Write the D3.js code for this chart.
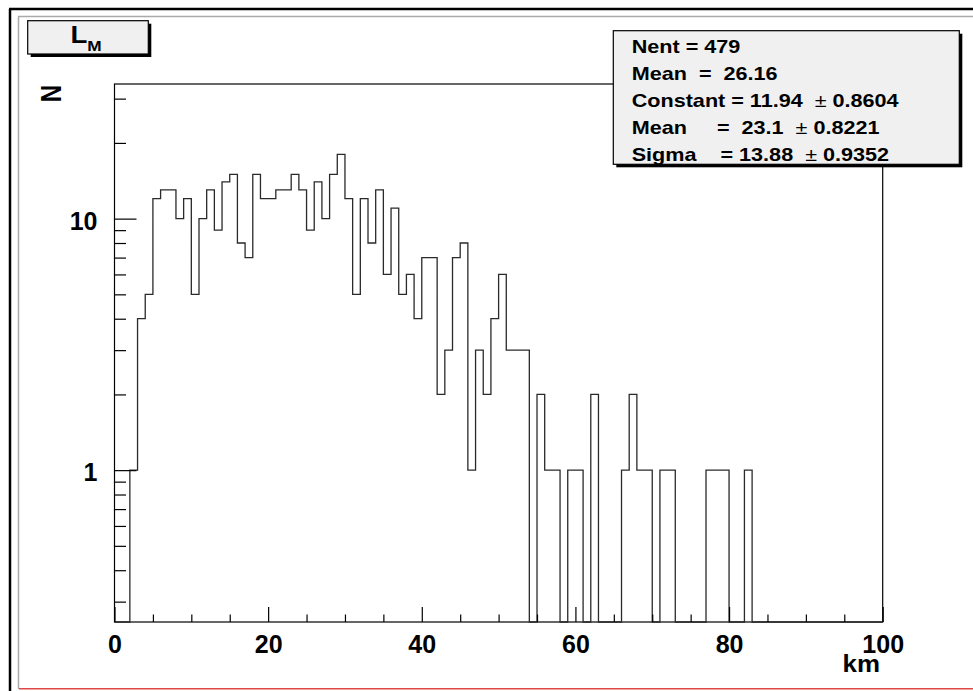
<!DOCTYPE html>
<html>
<head>
<meta charset="utf-8">
<script src="https://cdn.jsdelivr.net/npm/d3@7"></script>
<style>
  body { margin: 0; background: #fff; }
  svg { display: block; font-family: "Liberation Sans", Arial, sans-serif; font-weight: bold; }
  text { white-space: pre; }
</style>
</head>
<body>
<svg id="c" width="973" height="691"></svg>
<script>
// histogram contents, 1 km bins from 0 to 100
var binStart = d3.range(0, 100);
var counts = [0, 0, 1, 4, 5, 12, 13, 13, 10, 12,
              5, 10, 13, 9, 14, 15, 8, 7, 15, 12,
              12, 13, 13, 15, 13, 9, 14, 10, 15, 18,
              12, 5, 12, 8, 13, 6, 11, 5, 6, 4,
              7, 7, 2, 3, 7, 8, 1, 3, 2, 4,
              6, 3, 3, 3, 0, 2, 1, 1, 0, 1,
              1, 0, 2, 0, 0, 0, 1, 2, 1, 1,
              0, 1, 1, 0, 0, 0, 0, 1, 1, 1,
              0, 0, 1, 0, 0, 0, 0, 0, 0, 0,
              0, 0, 0, 0, 0, 0, 0, 0, 0, 0];
var xMajor = [0, 20, 40, 60, 80, 100];
var xMinor = [5, 10, 15, 25, 30, 35, 45, 50, 55, 65, 70, 75, 85, 90, 95];
var yMajor = [1, 10];
var yMinor = [0.3, 0.4, 0.5, 0.6, 0.7, 0.8, 0.9, 2, 3, 4, 5, 6, 7, 8, 9, 20, 30];
var statLines = [
  ["Nent = 479"],
  ["Mean  =  26.16"],
  ["Constant = 11.94  ", "0.8604"],
  ["Mean     =  23.1  ", "0.8221"],
  ["Sigma    = 13.88  ", "0.9352"]
];

var frame = {left: 114.5, right: 882.7, top: 84, bottom: 622};
var svg = d3.select("#c");

var x = d3.scaleLinear().domain([0, 100]).range([frame.left, frame.right]);
var y = d3.scaleLog().domain([0.249, 34.3]).range([frame.bottom, frame.top]);

// canvas decorations
svg.append("line").attr("x1", 10).attr("y1", 9).attr("x2", 10).attr("y2", 691)
  .attr("stroke", "#000").attr("stroke-width", 2.5);
svg.append("line").attr("x1", 9).attr("y1", 9).attr("x2", 973).attr("y2", 9)
  .attr("stroke", "#000").attr("stroke-width", 2.5);
svg.append("line").attr("x1", 18.5).attr("y1", 16.5).attr("x2", 18.5).attr("y2", 689)
  .attr("stroke", "#aaa").attr("stroke-width", 1.5);
svg.append("line").attr("x1", 18).attr("y1", 16.5).attr("x2", 973).attr("y2", 16.5)
  .attr("stroke", "#aaa").attr("stroke-width", 1.5);
svg.append("line").attr("x1", 19).attr("y1", 688.7).attr("x2", 973).attr("y2", 688.7)
  .attr("stroke", "#e04848").attr("stroke-width", 1.5);

// frame
svg.append("rect")
  .attr("x", frame.left).attr("y", frame.top)
  .attr("width", frame.right - frame.left).attr("height", frame.bottom - frame.top)
  .attr("fill", "none").attr("stroke", "#000").attr("stroke-width", 1.2);

// histogram outline
var pts = binStart.map(function(d, i) { return [d, counts[i]]; });
pts.push([100, counts[counts.length - 1]]);
var ymin = y.domain()[0];
svg.append("path")
  .datum(pts)
  .attr("fill", "none").attr("stroke", "#2a2a2a").attr("stroke-width", 1.3)
  .attr("d", d3.line()
    .curve(d3.curveStepAfter)
    .x(function(d) { return x(d[0]); })
    .y(function(d) { return y(Math.max(d[1], ymin)); }));

// axes, ticks pointing inward
function styleAxis(g) {
  g.select(".domain").remove();
  g.selectAll(".tick line").attr("stroke", "#000").attr("stroke-width", 1.2);
  g.selectAll(".tick text").attr("fill", "#000")
    .style("font-family", "'Liberation Sans', Arial, sans-serif")
    .style("font-weight", "bold").style("font-size", "25px");
}
svg.append("g").attr("transform", "translate(0," + frame.bottom + ")")
  .call(d3.axisBottom(x).tickValues(xMajor).tickSizeInner(-15).tickSizeOuter(0)
    .tickPadding(13).tickFormat(d3.format("d")))
  .call(styleAxis);
svg.append("g").attr("transform", "translate(0," + frame.bottom + ")")
  .call(d3.axisBottom(x).tickValues(xMinor).tickSizeInner(-7.5).tickSizeOuter(0).tickFormat(""))
  .call(styleAxis);
svg.append("g").attr("transform", "translate(" + frame.left + ",0)")
  .call(d3.axisLeft(y).tickValues(yMajor).tickSizeInner(-22).tickSizeOuter(0)
    .tickPadding(17).tickFormat(d3.format("d")))
  .call(styleAxis)
  .selectAll(".tick text").attr("dy", "0.42em");
svg.append("g").attr("transform", "translate(" + frame.left + ",0)")
  .call(d3.axisLeft(y).tickValues(yMinor).tickSizeInner(-11.5).tickSizeOuter(0).tickFormat(""))
  .call(styleAxis);

// axis titles
svg.append("text").attr("transform", "translate(880,672) scale(1.08,1)")
  .attr("text-anchor", "end")
  .style("font-size", "24px").text("km");
svg.append("text")
  .attr("transform", "translate(61,93.5) rotate(-90) scale(1,1.2)")
  .attr("text-anchor", "middle")
  .style("font-size", "24px").text("N");

// title box
var tb = {x: 27.7, y: 20.7, w: 120.6, h: 33.3};
svg.append("rect").attr("x", tb.x + 3).attr("y", tb.y + 3).attr("width", tb.w).attr("height", tb.h)
  .attr("fill", "#000");
svg.append("rect").attr("x", tb.x).attr("y", tb.y).attr("width", tb.w).attr("height", tb.h)
  .attr("fill", "#f0f0f0").attr("stroke", "#000").attr("stroke-width", 1.2);
var tt = svg.append("text").attr("transform", "translate(70.5,42.7) scale(1.15,1)")
  .style("font-size", "24px");
tt.append("tspan").text("L");
tt.append("tspan").attr("dy", 8).style("font-size", "15px").text("M");

// stats box
var sb = {x: 613.3, y: 30.7, w: 346, h: 133.6};
svg.append("rect").attr("x", sb.x + 3).attr("y", sb.y + 3).attr("width", sb.w).attr("height", sb.h)
  .attr("fill", "#000");
svg.append("rect").attr("x", sb.x).attr("y", sb.y).attr("width", sb.w).attr("height", sb.h)
  .attr("fill", "#f0f0f0").attr("stroke", "#000").attr("stroke-width", 1.2);
statLines.forEach(function(parts, i) {
  var t = svg.append("text")
    .attr("transform", "translate(631.7," + (53.3 + i * 26.9) + ") scale(1.2,1)")
    .style("font-size", "18px");
  t.append("tspan").text(parts[0]);
  if (parts.length > 1) {
    t.append("tspan").style("font-weight", "normal").text("\u00b1 ");
    t.append("tspan").text(parts[1]);
  }
});
</script>
</body>
</html>
